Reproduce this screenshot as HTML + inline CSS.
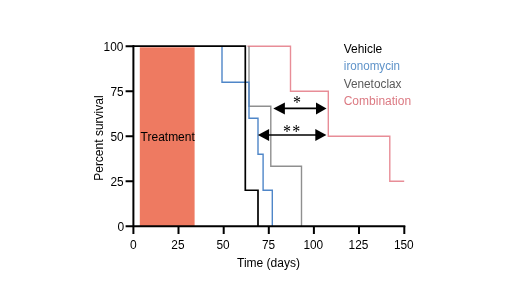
<!DOCTYPE html>
<html>
<head>
<meta charset="utf-8">
<title>Survival</title>
<style>
html,body{margin:0;padding:0;background:#fff;}
body{width:520px;height:292px;overflow:hidden;}
svg{display:block;}
text{font-family:"Liberation Sans",Arial,sans-serif;font-size:12px;}
.ast text{font-family:"Liberation Serif","Times New Roman",serif;font-size:16px;}
</style>
</head>
<body>
<svg width="520" height="292" viewBox="0 0 520 292">
<rect width="520" height="292" fill="#fff"/>
<!-- treatment -->
<rect x="139.8" y="47.3" width="54.8" height="178.7" fill="#ee7a61"/>
<text x="140.6" y="141.3" textLength="54.2" lengthAdjust="spacingAndGlyphs">Treatment</text>
<!-- curves -->
<g fill="none" stroke-width="1.4" stroke-linejoin="miter" stroke-linecap="butt">
<path d="M247.5 46.2 H290.5 V91.25 H328.3 V136.25 H389.8 V181.25 H404.2" stroke="#e88d97"/>
<path d="M249 46.2 V106.25 H270.8 V166.25 H301.5 V226.25" stroke="#8f8f8f"/>
<path d="M222 46.2 V82.25 H249 V118.25 H258 V154.25 H263.1 V190.25 H272.3 V226.25" stroke="#4f86c8"/>
<path d="M133.4 46.2 H245.3 V190.25 H258 V226.25" stroke="#000" stroke-width="1.7"/>
</g>
<!-- axes -->
<g stroke="#000" stroke-width="2" fill="none">
<path d="M133.4 45.25 V234"/>
<path d="M125.6 226.25 H405.3"/>
<path d="M125.6 46.25 H134"/>
<path d="M125.6 91.25 H134"/>
<path d="M125.6 136.25 H134"/>
<path d="M125.6 181.25 H134"/>
<path d="M178.5 226 V234"/>
<path d="M223.7 226 V234"/>
<path d="M268.8 226 V234"/>
<path d="M313.9 226 V234"/>
<path d="M359 226 V234"/>
<path d="M404.3 226 V234"/>
</g>
<!-- y labels -->
<g text-anchor="end">
<text x="123.4" y="50.7" textLength="19.8" lengthAdjust="spacingAndGlyphs">100</text>
<text x="123.6" y="95.8" textLength="13.2" lengthAdjust="spacingAndGlyphs">75</text>
<text x="123.6" y="141.3" textLength="13.2" lengthAdjust="spacingAndGlyphs">50</text>
<text x="123.6" y="186.2" textLength="13.2" lengthAdjust="spacingAndGlyphs">25</text>
<text x="124.1" y="231.3">0</text>
</g>
<g text-anchor="middle">
<text x="133.4" y="249">0</text>
<text x="177.9" y="249" textLength="13.2" lengthAdjust="spacingAndGlyphs">25</text>
<text x="223.1" y="249" textLength="13.2" lengthAdjust="spacingAndGlyphs">50</text>
<text x="268.6" y="249" textLength="13.2" lengthAdjust="spacingAndGlyphs">75</text>
<text x="313.3" y="249" textLength="19.8" lengthAdjust="spacingAndGlyphs">100</text>
<text x="358.5" y="249" textLength="19.8" lengthAdjust="spacingAndGlyphs">125</text>
<text x="403.8" y="249" textLength="19.8" lengthAdjust="spacingAndGlyphs">150</text>
</g>
<text x="237" y="267.2" textLength="63" lengthAdjust="spacingAndGlyphs">Time (days)</text>
<text transform="translate(102.9 180.8) rotate(-90)">Percent survival</text>
<!-- legend -->
<text x="343.7" y="53.3" textLength="38.6" lengthAdjust="spacingAndGlyphs">Vehicle</text>
<text x="343.8" y="70.1" textLength="56.2" lengthAdjust="spacingAndGlyphs" fill="#5f93c9">ironomycin</text>
<text x="343.7" y="87.6" textLength="57.8" lengthAdjust="spacingAndGlyphs" fill="#5a5a5a">Venetoclax</text>
<text x="343.7" y="104.5" textLength="67.4" lengthAdjust="spacingAndGlyphs" fill="#dc7a83">Combination</text>
<!-- arrows -->
<g stroke="#000" stroke-width="1.6">
<path d="M282 108.4 H318"/>
<path d="M266 135 H318"/>
</g>
<g fill="#000">
<path d="M273.3 108.5 L284.9 102.5 V114.5 Z"/>
<path d="M326.5 108.5 L316 102.5 V114.5 Z"/>
<path d="M257.9 135 L269.1 128.9 V141.1 Z"/>
<path d="M326.4 135 L315.3 128.9 V141.1 Z"/>
</g>
<g class="ast">
<text transform="translate(297 99.85) scale(1 1.2)" x="-3.92" y="7.6">*</text>
<text transform="translate(286.95 128.75) scale(1 1.2)" x="-3.92" y="7.6">*</text>
<text transform="translate(296.1 128.75) scale(1 1.2)" x="-3.92" y="7.6">*</text>
</g>
</svg>
</body>
</html>
